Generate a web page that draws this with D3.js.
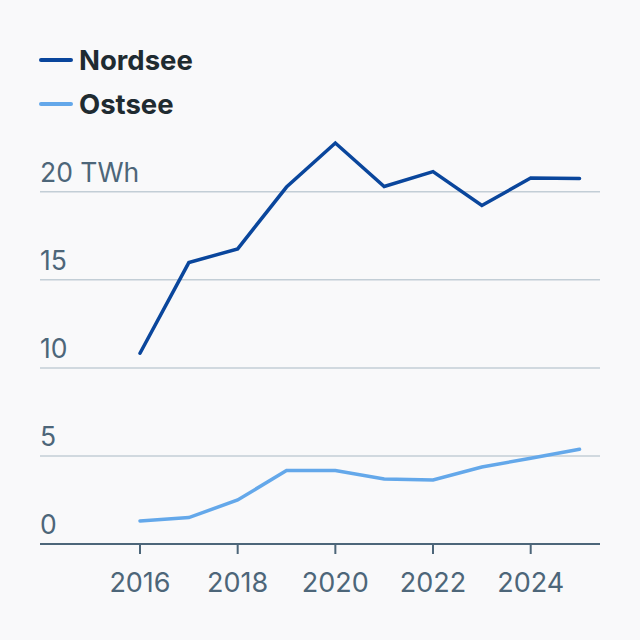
<!DOCTYPE html>
<html>
<head>
<meta charset="utf-8">
<script src="https://cdn.jsdelivr.net/npm/d3@7"></script>
<style>
  html, body { margin: 0; padding: 0; background: #f9f9fa; }
  svg { display: block; font-family: Inter, "Noto Sans", sans-serif; }
</style>
</head>
<body>
<svg id="chart" width="640" height="640"></svg>
<script>
var years = [2016, 2017, 2018, 2019, 2020, 2021, 2022, 2023, 2024, 2025];
var nordsee = [10.83, 15.98, 16.76, 20.27, 22.77, 20.3, 21.15, 19.22, 20.78, 20.76];
var ostsee = [1.31, 1.5, 2.5, 4.17, 4.17, 3.69, 3.64, 4.37, 4.87, 5.38];
var yTicks = [0, 5, 10, 15, 20];
var xTicks = [2016, 2018, 2020, 2022, 2024];
var seriesNames = ['Nordsee', 'Ostsee'];
var seriesColors = ['#0a469c', '#64a8ea'];

var svg = d3.select('#chart');
var left = 40, right = 600;

var x = d3.scaleLinear().domain([2016, 2024]).range([140, 530.7]);
var y = d3.scaleLinear().domain([0, 20]).range([544, 191.8]);

// gridlines + y labels
var grid = svg.append('g');
yTicks.forEach(function (t) {
  if (t > 0) {
    grid.append('line')
      .attr('x1', left).attr('x2', right)
      .attr('y1', y(t)).attr('y2', y(t))
      .attr('stroke', '#c3ced6').attr('stroke-width', 1.5);
  }
  grid.append('text')
    .attr('x', left)
    .attr('y', y(t) - 10)
    .attr('fill', '#4d6679')
    .attr('font-size', 26.5)
    .text(t === 20 ? '20 TWh' : t);
});

// x axis
var xAxis = svg.append('g');
xAxis.append('line')
  .attr('x1', left).attr('x2', right)
  .attr('y1', y(0)).attr('y2', y(0))
  .attr('stroke', '#4d6679').attr('stroke-width', 2);
xTicks.forEach(function (t) {
  xAxis.append('line')
    .attr('x1', x(t)).attr('x2', x(t))
    .attr('y1', y(0)).attr('y2', y(0) + 10)
    .attr('stroke', '#4d6679').attr('stroke-width', 2);
  xAxis.append('text')
    .attr('x', x(t))
    .attr('y', 592)
    .attr('text-anchor', 'middle')
    .attr('fill', '#4d6679')
    .attr('font-size', 27)
    .text(t);
});

// lines
var line = d3.line()
  .x(function (d, i) { return x(years[i]); })
  .y(function (d) { return y(d); });

[nordsee, ostsee].forEach(function (vals, i) {
  svg.append('path')
    .datum(vals)
    .attr('d', line)
    .attr('fill', 'none')
    .attr('stroke', seriesColors[i])
    .attr('stroke-width', 3.5)
    .attr('stroke-linejoin', 'miter')
    .attr('stroke-linecap', 'round');
});

// legend
var legend = svg.append('g');
seriesNames.forEach(function (name, i) {
  var ly = 60 + i * 44;
  legend.append('line')
    .attr('x1', 41).attr('x2', 71)
    .attr('y1', ly).attr('y2', ly)
    .attr('stroke', seriesColors[i])
    .attr('stroke-width', 4)
    .attr('stroke-linecap', 'round');
  legend.append('text')
    .attr('x', 79)
    .attr('y', ly + 10)
    .attr('fill', '#1f2b31')
    .attr('font-size', 27.5)
    .attr('font-weight', 700)
    .text(name);
});
</script>
</body>
</html>
